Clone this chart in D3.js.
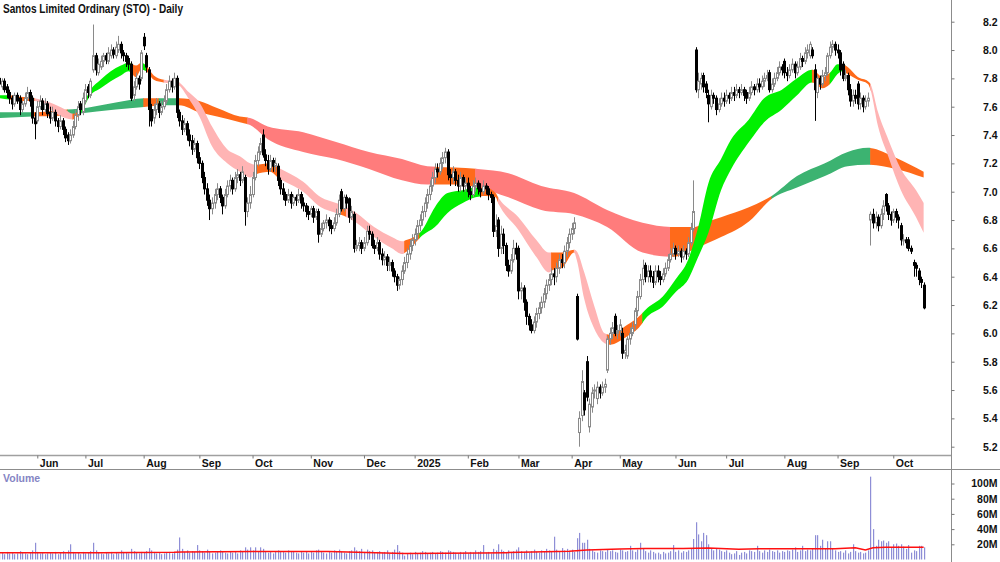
<!DOCTYPE html>
<html>
<head>
<meta charset="utf-8">
<script src="https://cdn.jsdelivr.net/npm/d3@7/dist/d3.min.js"></script>
<style>
  body { margin: 0; background: #fff; }
  svg { display: block; font-family: "Liberation Sans", Arial, sans-serif; }
</style>
</head>
<body>
<script>
//Width and height
var w = 1000;
var h = 562;
var axisX = 951;

//Daily candles, index 0 = 13 May 2024
var open = [
  7.80,7.74,7.78,7.74,7.70,7.66,7.62,7.68,7.66,7.58, 7.62,7.66,7.70,7.66,7.52,7.50,7.60,7.64,7.58,7.62,
  7.56,7.52,7.56,7.50,7.46,7.50,7.44,7.40,7.36,7.40, 7.46,7.54,7.62,7.56,7.64,7.74,7.68,7.86,7.96,7.84,
  7.88,7.92,7.96,7.92,7.96,8.00,7.96,8.00,8.04,7.98, 7.96,7.94,7.90,7.68,7.74,7.80,7.80,8.09,7.96,7.86,
  7.58,7.52,7.58,7.62,7.56,7.60,7.64,7.72,7.78,7.74, 7.80,7.56,7.50,7.44,7.48,7.40,7.36,7.30,7.34,7.24,
  7.20,7.10,7.02,6.94,6.88,6.92,6.98,7.02,6.96,6.90, 6.98,7.04,7.08,7.02,7.10,7.12,7.08,7.10,6.86,6.92,
  6.98,7.10,7.22,7.28,7.40,7.26,7.22,7.16,7.22,7.18, 7.18,7.08,7.02,6.98,6.94,6.98,6.92,6.96,6.94,6.98,
  6.92,6.90,6.86,6.84,6.88,6.82,6.86,6.70,6.74,6.78, 6.80,6.76,6.74,6.78,6.84,7.00,6.88,6.96,6.95,6.82,
  6.84,6.60,6.62,6.64,6.60,6.64,6.72,6.70,6.62,6.60, 6.64,6.56,6.52,6.54,6.48,6.50,6.44,6.40,6.34,6.38,
  6.44,6.50,6.56,6.62,6.66,6.70,6.76,6.80,6.86,6.92, 6.98,7.04,7.10,7.16,7.14,7.20,7.24,7.28,7.12,7.10,
  7.14,7.08,7.04,7.10,7.04,7.06,7.00,6.98,7.04,7.06, 7.02,7.00,7.04,7.02,6.98,6.96,6.72,6.80,6.60,6.70,
  6.62,6.48,6.44,6.52,6.60,6.60,6.30,6.32,6.22,6.12, 6.06,6.02,6.08,6.14,6.18,6.22,6.28,6.34,6.38,6.42,
  6.40,6.46,6.52,6.50,6.58,6.64,6.70,6.74,6.26,5.30, 5.42,5.58,5.80,5.34,5.48,5.60,5.54,5.62,5.58,5.62,
  5.74,5.96,6.00,6.12,6.00,6.02,6.00,5.86,5.84,5.96, 6.00,6.06,6.16,6.26,6.38,6.48,6.40,6.44,6.40,6.36,
  6.44,6.40,6.38,6.42,6.46,6.52,6.56,6.60,6.56,6.58, 6.54,6.58,6.56,6.64,6.74,8.00,7.72,7.76,7.82,7.76,
  7.68,7.60,7.68,7.66,7.58,7.62,7.66,7.64,7.68,7.66, 7.70,7.68,7.72,7.70,7.72,7.70,7.66,7.70,7.74,7.72,
  7.76,7.74,7.78,7.80,7.84,7.72,7.76,7.80,7.84,7.88, 7.92,7.84,7.82,7.86,7.90,7.84,7.88,7.94,7.92,7.98,
  7.96,8.00,7.86,7.70,7.80,7.76,7.82,7.84,7.96,8.02, 8.04,8.00,7.98,7.90,7.80,7.82,7.72,7.64,7.68,7.76,
  7.62,7.66,7.60,7.64,6.80,6.84,6.78,6.82,6.76,6.84, 6.98,6.90,6.84,6.80,6.86,6.82,6.76,6.66,6.66,6.66,
  6.60,6.50,6.48,6.44,6.38,6.34
];
var high = [
  7.82,7.80,7.80,7.76,7.72,7.68,7.70,7.70,7.68,7.64, 7.70,7.74,7.72,7.68,7.56,7.64,7.68,7.66,7.66,7.64,
  7.60,7.60,7.58,7.52,7.54,7.52,7.46,7.42,7.44,7.50, 7.58,7.64,7.64,7.70,7.76,7.76,7.80,8.18,7.98,7.94,
  7.96,7.98,7.98,8.02,8.04,8.02,8.06,8.10,8.06,8.00, 7.98,7.96,7.92,7.78,7.84,7.82,8.00,8.12,7.98,7.88,
  7.62,7.62,7.66,7.64,7.64,7.68,7.76,7.82,7.80,7.84, 7.82,7.58,7.54,7.52,7.50,7.44,7.40,7.38,7.36,7.28,
  7.22,7.14,7.06,6.98,6.96,7.02,7.06,7.04,6.98,7.02, 7.08,7.12,7.10,7.14,7.16,7.14,7.18,7.12,6.96,7.04,
  7.14,7.26,7.32,7.38,7.44,7.30,7.26,7.26,7.24,7.24, 7.20,7.10,7.06,7.00,7.02,7.00,6.98,6.98,7.02,7.00,
  6.96,6.92,6.90,6.90,6.90,6.88,6.88,6.78,6.80,6.84, 6.82,6.80,6.82,6.88,6.98,7.02,6.98,6.98,6.96,6.90,
  6.86,6.66,6.68,6.66,6.68,6.76,6.76,6.72,6.66,6.68, 6.66,6.60,6.58,6.56,6.54,6.52,6.46,6.42,6.40,6.48,
  6.54,6.60,6.66,6.70,6.74,6.80,6.84,6.90,6.96,7.02, 7.08,7.14,7.20,7.20,7.24,7.28,7.31,7.30,7.16,7.18,
  7.16,7.12,7.14,7.12,7.10,7.10,7.04,7.08,7.10,7.08, 7.06,7.08,7.06,7.04,7.00,6.98,6.84,6.82,6.76,6.74,
  6.64,6.52,6.56,6.66,6.64,6.62,6.36,6.34,6.24,6.14, 6.10,6.12,6.18,6.22,6.26,6.32,6.38,6.42,6.46,6.46,
  6.50,6.56,6.56,6.62,6.68,6.74,6.78,6.82,6.28,5.45, 5.74,5.60,5.84,5.54,5.62,5.64,5.66,5.64,5.66,5.68,
  5.98,6.04,6.08,6.14,6.06,6.10,6.04,5.92,5.98,6.04, 6.08,6.18,6.30,6.42,6.52,6.50,6.48,6.48,6.44,6.48,
  6.48,6.44,6.46,6.50,6.56,6.60,6.64,6.62,6.62,6.60, 6.62,6.60,6.68,6.78,7.08,8.02,7.84,7.84,7.84,7.78,
  7.72,7.72,7.70,7.68,7.66,7.70,7.70,7.72,7.70,7.74, 7.74,7.76,7.74,7.76,7.74,7.72,7.74,7.78,7.76,7.80,
  7.80,7.82,7.84,7.86,7.86,7.80,7.84,7.88,7.92,7.90, 7.94,7.88,7.90,7.94,7.92,7.92,7.98,7.96,8.02,8.04,
  8.06,8.02,7.90,7.82,7.82,7.86,7.88,7.98,8.06,8.07, 8.06,8.04,8.00,7.92,7.86,7.84,7.76,7.72,7.72,7.78,
  7.70,7.68,7.68,7.70,6.86,6.88,6.86,6.84,6.88,6.94, 6.99,6.92,6.86,6.88,6.88,6.84,6.78,6.70,6.68,6.68,
  6.62,6.52,6.50,6.46,6.40,6.36
];
var low = [
  7.72,7.72,7.70,7.66,7.62,7.58,7.60,7.62,7.54,7.56, 7.60,7.64,7.60,7.48,7.37,7.48,7.58,7.54,7.56,7.52,
  7.48,7.50,7.46,7.42,7.44,7.40,7.35,7.33,7.34,7.38, 7.44,7.50,7.54,7.54,7.62,7.66,7.66,7.84,7.82,7.82,
  7.86,7.88,7.90,7.90,7.94,7.94,7.94,7.98,7.94,7.92, 7.88,7.86,7.64,7.64,7.72,7.72,7.78,8.00,7.84,7.46,
  7.46,7.48,7.54,7.52,7.54,7.58,7.62,7.70,7.70,7.72, 7.52,7.46,7.40,7.42,7.36,7.32,7.26,7.28,7.20,7.16,
  7.06,6.98,6.90,6.80,6.84,6.88,6.94,6.92,6.84,6.88, 6.96,7.00,6.98,7.00,7.06,7.04,7.06,6.76,6.82,6.88,
  6.96,7.08,7.18,7.26,7.24,7.18,7.12,7.14,7.14,7.14, 7.04,6.98,6.94,6.90,6.92,6.88,6.90,6.90,6.92,6.88,
  6.86,6.82,6.80,6.82,6.78,6.80,6.64,6.68,6.72,6.74, 6.72,6.70,6.72,6.76,6.82,6.86,6.86,6.88,6.78,6.80,
  6.57,6.58,6.58,6.56,6.58,6.62,6.66,6.60,6.56,6.58, 6.52,6.48,6.48,6.44,6.44,6.40,6.36,6.30,6.31,6.34,
  6.42,6.46,6.52,6.58,6.62,6.66,6.72,6.76,6.82,6.88, 6.94,7.00,7.06,7.10,7.12,7.16,7.20,7.08,7.04,7.06,
  7.04,7.00,7.00,7.00,7.00,6.96,6.94,6.96,7.00,6.98, 6.96,6.98,6.98,6.94,6.92,6.68,6.68,6.54,6.56,6.56,
  6.44,6.40,6.42,6.50,6.52,6.24,6.24,6.16,6.06,6.02, 6.00,6.00,6.04,6.10,6.14,6.18,6.24,6.30,6.34,6.34,
  6.36,6.42,6.46,6.46,6.54,6.60,6.66,6.70,5.95,5.20, 5.38,5.42,5.52,5.30,5.44,5.54,5.50,5.54,5.56,5.58,
  5.72,5.92,5.96,5.98,5.96,5.98,5.82,5.82,5.82,5.92, 5.98,6.02,6.12,6.24,6.34,6.36,6.36,6.36,6.32,6.34,
  6.36,6.34,6.36,6.40,6.44,6.50,6.54,6.52,6.54,6.50, 6.52,6.52,6.54,6.62,6.72,7.70,7.66,7.72,7.70,7.66,
  7.49,7.58,7.62,7.54,7.56,7.60,7.60,7.62,7.62,7.64, 7.64,7.66,7.66,7.68,7.64,7.62,7.64,7.68,7.68,7.70,
  7.70,7.72,7.74,7.78,7.70,7.70,7.74,7.78,7.82,7.82, 7.80,7.78,7.80,7.84,7.80,7.82,7.86,7.88,7.90,7.94,
  7.94,7.94,7.50,7.66,7.72,7.74,7.78,7.82,7.94,7.98, 7.96,7.94,7.82,7.78,7.78,7.68,7.60,7.60,7.62,7.58,
  7.58,7.56,7.58,7.60,6.62,6.74,6.74,6.72,6.74,6.80, 6.86,6.80,6.76,6.78,6.78,6.74,6.62,6.62,6.60,6.58,
  6.56,6.40,6.40,6.34,6.32,6.17
];
var close = [
  7.76,7.78,7.72,7.70,7.66,7.62,7.68,7.64,7.58,7.62, 7.66,7.70,7.64,7.52,7.48,7.60,7.64,7.58,7.62,7.55,
  7.52,7.56,7.50,7.46,7.50,7.44,7.38,7.36,7.40,7.46, 7.54,7.60,7.58,7.66,7.72,7.70,7.78,7.96,7.86,7.90,
  7.92,7.96,7.93,7.98,8.00,7.97,8.02,8.04,7.98,7.96, 7.92,7.90,7.66,7.74,7.80,7.76,7.98,8.03,7.88,7.58,
  7.50,7.58,7.62,7.56,7.60,7.64,7.72,7.78,7.74,7.80, 7.56,7.50,7.44,7.48,7.40,7.36,7.30,7.34,7.24,7.20,
  7.10,7.02,6.94,6.88,6.92,6.98,7.02,6.96,6.90,6.98, 7.04,7.08,7.02,7.10,7.12,7.08,7.14,6.86,6.92,6.98,
  7.10,7.22,7.28,7.34,7.26,7.22,7.16,7.22,7.18,7.20, 7.08,7.02,6.98,6.94,6.98,6.92,6.96,6.94,6.98,6.92,
  6.90,6.86,6.84,6.88,6.82,6.86,6.70,6.74,6.78,6.80, 6.76,6.74,6.78,6.84,6.94,6.88,6.96,6.92,6.82,6.86,
  6.60,6.62,6.64,6.60,6.64,6.72,6.70,6.62,6.60,6.64, 6.56,6.52,6.54,6.48,6.50,6.44,6.40,6.34,6.38,6.44,
  6.50,6.56,6.62,6.66,6.70,6.76,6.80,6.86,6.92,6.98, 7.04,7.10,7.16,7.14,7.20,7.24,7.28,7.12,7.10,7.14,
  7.08,7.04,7.10,7.04,7.06,7.00,6.98,7.04,7.06,7.02, 7.00,7.04,7.02,6.98,6.96,6.72,6.76,6.60,6.70,6.62,
  6.48,6.44,6.52,6.60,6.56,6.30,6.32,6.22,6.12,6.06, 6.02,6.08,6.14,6.18,6.22,6.28,6.34,6.38,6.42,6.40,
  6.46,6.52,6.50,6.58,6.64,6.70,6.74,6.78,5.96,5.40, 5.66,5.46,5.55,5.50,5.58,5.60,5.62,5.58,5.62,5.64,
  5.96,6.00,6.04,6.00,6.02,6.06,5.86,5.88,5.96,6.00, 6.04,6.16,6.26,6.38,6.46,6.40,6.44,6.40,6.36,6.44,
  6.40,6.38,6.42,6.46,6.52,6.56,6.60,6.56,6.58,6.54, 6.58,6.56,6.64,6.74,6.86,7.72,7.78,7.80,7.74,7.70,
  7.62,7.68,7.66,7.58,7.62,7.66,7.64,7.68,7.66,7.70, 7.68,7.72,7.70,7.72,7.68,7.66,7.70,7.74,7.72,7.76,
  7.74,7.78,7.80,7.82,7.72,7.76,7.80,7.84,7.88,7.86, 7.84,7.82,7.86,7.90,7.84,7.88,7.94,7.92,7.98,8.00,
  8.04,7.96,7.72,7.80,7.76,7.82,7.84,7.96,8.02,8.04, 8.00,7.98,7.86,7.80,7.82,7.72,7.64,7.68,7.66,7.62,
  7.66,7.60,7.64,7.66,6.84,6.78,6.82,6.76,6.84,6.90, 6.90,6.84,6.80,6.86,6.82,6.80,6.66,6.66,6.64,6.60,
  6.58,6.48,6.46,6.38,6.36,6.18
];

//Daily volume, millions
var volume = [
  8,9,7,10,8,9,7,8,11,9, 8,7,9,12,22,10,8,9,7,8, 9,8,10,7,9,11,8,12,20,10, 8,9,7,10,8,9,11,22,12,9,
  8,7,9,8,10,7,9,8,12,10, 9,8,14,11,9,8,10,9,11,15, 12,10,8,9,7,8,9,10,8,9, 13,29,14,10,12,9,11,10,19,12,
  11,9,13,10,8,9,11,12,10,9, 8,10,9,11,8,12,10,16,13,16, 12,16,11,16,14,10,9,11,8,10, 12,11,10,9,12,11,10,9,8,10,
  9,11,8,10,9,12,13,10,9,8, 10,9,12,11,13,10,9,8,11,12, 16,12,11,14,10,13,11,12,9,10, 11,9,10,12,8,10,13,19,11,9,
  5,8,9,7,10,8,9,11,10,8, 9,10,8,9,11,10,9,12,11,10, 9,8,10,9,11,8,10,9,12,10, 11,19,9,10,8,14,12,20,13,11,
  9,12,10,11,13,16,11,10,12,9, 11,13,10,9,12,10,14,12,11,30, 13,10,15,12,14,11,13,10,28,35, 22,22,26,14,12,10,9,12,11,10,
  13,11,12,10,9,13,12,10,11,18, 12,10,13,22,14,11,9,12,10,8, 9,7,10,8,9,11,19,10,12,9, 11,10,12,14,27,49,33,24,35,32,
  20,14,12,15,13,11,10,12,9,7, 8,11,6,9,10,8,12,11,10,18, 11,9,12,10,13,11,10,12,9,11, 10,12,11,13,16,10,12,18,11,13,
  12,14,32,32,18,26,15,24,24,14, 12,10,11,9,12,8,10,20,11,9, 10,8,9,12,109,40,18,26,24,25, 22,24,16,20,21,18,20,17,14,19,
  9,12,11,18,18,16
];

//Volume average line (index, millions)
var volAvgIdx = [0, 40, 69, 72, 100, 130, 160, 190, 200, 225, 232, 245, 255, 270, 280, 292, 300, 330, 338, 342, 345, 350, 365];
var volAvgVal = [9, 9, 9.5, 10, 10.5, 10.5, 8, 8.5, 9, 11, 12.5, 13.8, 14.5, 14.5, 15, 13.4, 14, 14, 15.5, 12.5, 15.5, 16, 16];

//Short-term ribbon (index, upper, lower)
var shortIdx = [0,4,8,14,20,26,29,32,36,40,44,48,51,54,56,58,61,65,70,75,79,84,90,95,99,101,107,110,120,127,133,136,141,148,155,159,161,167,172,177,183,188,192,196,197,205,212,217,219,222,227,228,231,235,239,241,248,252,256,262,267,272,276,280,285,289,296,302,309,315,321,325,328,331,333,335,339,343,344,347,351,356,362,365];
var shortHi = [7.68,7.68,7.67,7.66,7.63,7.58,7.55,7.58,7.72,7.79,7.85,7.89,7.91,7.89,7.91,7.89,7.82,7.79,7.78,7.70,7.63,7.46,7.30,7.25,7.20,7.19,7.20,7.17,7.07,6.96,6.92,6.90,6.85,6.75,6.68,6.65,6.66,6.73,6.89,6.99,7.01,7.03,7.03,6.99,6.96,6.82,6.66,6.57,6.57,6.57,6.59,6.58,6.43,6.19,6.00,5.99,6.06,6.11,6.18,6.26,6.38,6.52,6.75,7.06,7.23,7.37,7.51,7.66,7.72,7.80,7.86,7.81,7.84,7.90,7.90,7.88,7.81,7.78,7.76,7.56,7.37,7.16,7.01,6.92];
var shortLo = [7.66,7.65,7.64,7.64,7.58,7.52,7.51,7.55,7.68,7.73,7.78,7.82,7.85,7.81,7.86,7.85,7.79,7.77,7.76,7.65,7.53,7.32,7.20,7.14,7.10,7.12,7.14,7.10,7.00,6.89,6.85,6.83,6.78,6.68,6.60,6.56,6.58,6.69,6.75,6.85,6.92,6.96,6.97,6.96,6.92,6.73,6.54,6.43,6.45,6.46,6.57,6.52,6.24,6.03,5.93,5.92,5.98,6.03,6.12,6.19,6.29,6.38,6.54,6.71,7.01,7.16,7.35,7.49,7.58,7.68,7.77,7.73,7.76,7.83,7.85,7.83,7.79,7.76,7.72,7.46,7.25,7.01,6.82,6.71];
var shortRuns = [
  [0,4,"up"],[4,14,"flat"],[14,29,"down"],[29,32,"flat"],[32,52,"up"],[52,56,"flat"],[56,58,"up"],
  [58,65,"flat"],[65,69,"down"],[69,71,"up"],[71,101,"down"],[101,110,"flat"],[110,134,"down"],
  [134,137,"flat"],[137,160,"down"],[160,166,"flat"],[166,190,"up"],[190,197,"flat"],[197,218,"down"],
  [218,227,"flat"],[227,240,"down"],[240,254,"flat"],[254,321,"up"],[321,328,"flat"],[328,334,"up"],
  [334,344,"flat"],[344,365,"down"]
];

//Long-term ribbon (index, upper, lower)
var longIdx = [0,13,27,31,46,58,65,71,79,86,95,99,106,120,133,146,159,169,180,189,201,214,227,240,254,266,274,280,285,296,305,315,326,335,343,354,365];
var longHi = [7.56,7.56,7.58,7.585,7.63,7.66,7.66,7.66,7.64,7.59,7.53,7.52,7.46,7.42,7.35,7.28,7.23,7.18,7.17,7.16,7.13,7.04,6.99,6.87,6.78,6.75,6.75,6.79,6.82,6.89,6.97,7.11,7.20,7.28,7.31,7.24,7.14];
var longLo = [7.52,7.53,7.54,7.55,7.58,7.60,7.61,7.61,7.56,7.53,7.49,7.47,7.37,7.28,7.23,7.16,7.08,7.05,7.05,7.03,6.96,6.87,6.84,6.75,6.57,6.54,6.59,6.64,6.68,6.79,6.95,7.03,7.11,7.18,7.19,7.16,7.10];
var longRuns = [
  [0,13,"up"],[13,27,"flat"],[27,57,"up"],[57,63,"flat"],[63,71,"up"],[71,98,"flat"],[98,172,"down"],
  [172,188,"flat"],[188,265,"down"],[265,305,"flat"],[305,344,"up"],[344,365,"flat"]
];

//Axis labels
var monthIdx = [15, 34, 57, 79, 100, 123, 144, 164, 185, 205, 226, 245, 267, 287, 310, 331, 353];
var monthLabels = ["Jun", "Jul", "Aug", "Sep", "Oct", "Nov", "Dec", "2025", "Feb", "Mar", "Apr", "May", "Jun", "Jul", "Aug", "Sep", "Oct"];
var priceTicks = [5.2, 5.4, 5.6, 5.8, 6.0, 6.2, 6.4, 6.6, 6.8, 7.0, 7.2, 7.4, 7.6, 7.8, 8.0, 8.2];
var volTicks = [20, 40, 60, 80, 100];

var shortColors = { up: "#00f000", flat: "#ff6a1a", down: "#ffb4b4" };
var longColors = { up: "#3cb371", flat: "#ff6a1a", down: "#ff7c7c" };

//Create scale functions
var xScale = d3.scaleLinear()
    .domain([0, 365])
    .range([-0.7, 923.66]);

var yScale = d3.scaleLinear()
    .domain([5.2, 8.2])
    .range([446.7, 21.7]);

var vScale = d3.scaleLinear()
    .domain([0, 100])
    .range([559.5, 483.5]);

//Create SVG element
var svg = d3.select("body")
    .append("svg")
    .attr("width", w)
    .attr("height", h);

svg.append("rect").attr("width", w).attr("height", h).attr("fill", "#fff");

var defs = svg.append("defs");

//Ribbons, one area clipped into colour runs
function drawRibbon(idx, hi, lo, runs, colors, name) {
    var pts = idx.map(function(d, k) { return { i: d, hi: hi[k], lo: lo[k] }; });
    var area = d3.area()
        .x(function(d) { return xScale(d.i); })
        .y0(function(d) { return yScale(d.lo); })
        .y1(function(d) { return yScale(d.hi); })
        .curve(d3.curveMonotoneX);
    var g = svg.append("g");
    runs.forEach(function(r, k) {
        var id = name + "-clip-" + k;
        var x0 = xScale(r[0]);
        var x1 = xScale(r[1]);
        defs.append("clipPath").attr("id", id)
            .append("rect")
            .attr("x", x0 - 0.3)
            .attr("y", 0)
            .attr("width", x1 - x0 + 0.6)
            .attr("height", 455);
        g.append("path")
            .attr("d", area(pts))
            .attr("fill", colors[r[2]])
            .attr("clip-path", "url(#" + id + ")");
    });
}

drawRibbon(longIdx, longHi, longLo, longRuns, longColors, "long");
drawRibbon(shortIdx, shortHi, shortLo, shortRuns, shortColors, "short");

//Candles
var candles = close.map(function(c, i) {
    return { i: i, o: open[i], h: high[i], l: low[i], c: c };
});

var cg = svg.append("g");

cg.selectAll("line")
    .data(candles)
    .enter()
    .append("line")
    .attr("x1", function(d) { return Math.round(xScale(d.i)) + 0.5; })
    .attr("x2", function(d) { return Math.round(xScale(d.i)) + 0.5; })
    .attr("y1", function(d) { return yScale(d.h); })
    .attr("y2", function(d) { return yScale(d.l); })
    .attr("stroke", function(d) { return d.c >= d.o ? "#8a8a8a" : "#000"; })
    .attr("stroke-width", 1);

cg.selectAll("rect")
    .data(candles)
    .enter()
    .append("rect")
    .attr("x", function(d) { return Math.round(xScale(d.i)) - 0.5; })
    .attr("y", function(d) { return yScale(Math.max(d.o, d.c)); })
    .attr("width", 2)
    .attr("height", function(d) { return Math.max(1, Math.abs(yScale(d.o) - yScale(d.c))); })
    .attr("fill", function(d) { return d.c >= d.o ? "#fff" : "#000"; })
    .attr("stroke", function(d) { return d.c >= d.o ? "#8a8a8a" : "#000"; })
    .attr("stroke-width", 1);

//Volume bars
svg.append("g")
    .selectAll("rect")
    .data(volume)
    .enter()
    .append("rect")
    .attr("x", function(d, i) { return Math.round(xScale(i)); })
    .attr("y", function(d) { return vScale(d); })
    .attr("width", 1.2)
    .attr("height", function(d) { return vScale(0) - vScale(d); })
    .attr("fill", "#8e8ed6");

var volLine = d3.line()
    .x(function(d, k) { return xScale(volAvgIdx[k]); })
    .y(function(d) { return vScale(d); });

svg.append("path")
    .attr("d", volLine(volAvgVal))
    .attr("fill", "none")
    .attr("stroke", "#ff1010")
    .attr("stroke-width", 1.5);

//Frame lines
svg.append("line").attr("x1", axisX + 0.5).attr("x2", axisX + 0.5).attr("y1", 0).attr("y2", h)
    .attr("stroke", "#8c8c8c");
svg.append("line").attr("x1", 0).attr("x2", axisX).attr("y1", 455.5).attr("y2", 455.5)
    .attr("stroke", "#a0a0a0").attr("stroke-width", 1.5);
svg.append("line").attr("x1", 0).attr("x2", w).attr("y1", 469.5).attr("y2", 469.5)
    .attr("stroke", "#8c8c8c");

// Create axes
var xAxis = d3.axisBottom(xScale)
    .tickValues(monthIdx)
    .tickSize(3)
    .tickFormat(function(d, k) { return monthLabels[k]; });

svg.append("g")
    .attr("transform", "translate(0, 455.5)")
    .call(xAxis)
    .call(function(g) { g.select(".domain").remove(); })
    .call(function(g) {
        g.selectAll("line").attr("stroke", "#777");
        g.selectAll("text")
            .attr("x", 2)
            .attr("y", 11)
            .attr("dy", 0)
            .attr("text-anchor", "start")
            .attr("fill", "#111")
            .style("font", "bold 10.5px 'Liberation Sans', Arial, sans-serif");
    });

var yAxis = d3.axisRight(yScale)
    .tickValues(priceTicks)
    .tickSize(3)
    .tickFormat(d3.format(".1f"));

svg.append("g")
    .attr("transform", `translate(${axisX + 0.5}, 0)`)
    .call(yAxis)
    .call(function(g) { g.select(".domain").remove(); })
    .call(function(g) {
        g.selectAll("line").attr("stroke", "#777");
        g.selectAll("text")
            .attr("x", 46)
            .attr("text-anchor", "end")
            .attr("fill", "#111")
            .style("font", "bold 10.5px 'Liberation Sans', Arial, sans-serif");
    });

var vAxis = d3.axisRight(vScale)
    .tickValues(volTicks)
    .tickSize(3)
    .tickFormat(function(d) { return d + "M"; });

svg.append("g")
    .attr("transform", `translate(${axisX + 0.5}, 0)`)
    .call(vAxis)
    .call(function(g) { g.select(".domain").remove(); })
    .call(function(g) {
        g.selectAll("line").attr("stroke", "#777");
        g.selectAll("text")
            .attr("x", 46)
            .attr("text-anchor", "end")
            .attr("fill", "#111")
            .style("font", "bold 10.5px 'Liberation Sans', Arial, sans-serif");
    });

//Titles
svg.append("text")
    .attr("x", 3)
    .attr("y", 13)
    .attr("textLength", 180)
    .attr("lengthAdjust", "spacingAndGlyphs")
    .attr("fill", "#111")
    .style("font", "bold 12.5px 'Liberation Sans', Arial, sans-serif")
    .text("Santos Limited Ordinary (STO) - Daily");

svg.append("text")
    .attr("x", 3)
    .attr("y", 482)
    .attr("fill", "#8585c4")
    .style("font", "bold 10.5px 'Liberation Sans', Arial, sans-serif")
    .text("Volume");
</script>
</body>
</html>
